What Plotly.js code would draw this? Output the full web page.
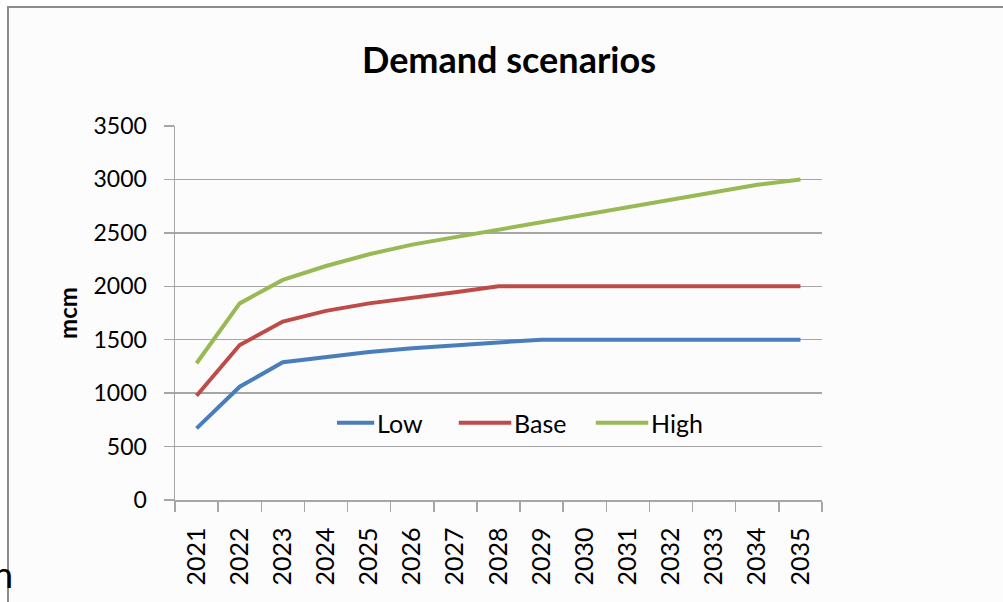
<!DOCTYPE html>
<html>
<head>
<meta charset="utf-8">
<script src="https://cdn.plot.ly/plotly-3.0.1.min.js"></script>
<style>
  html, body { margin: 0; padding: 0; background: #ffffff; }
  #chart { width: 1003px; height: 602px; }
  /* the reference's legend keys are longer than Plotly's default samples */
  #chart .legendlines path { transform: translateX(-24px) scaleX(1.75); }
</style>
</head>
<body>
<div id="chart"></div>
<script>
const years = ["2021","2022","2023","2024","2025","2026","2027","2028","2029","2030","2031","2032","2033","2034","2035"];
const lowValues  = [670, 1060, 1290, 1340, 1385, 1420, 1450, 1475, 1500, 1500, 1500, 1500, 1500, 1500, 1500];
const baseValues = [975, 1450, 1670, 1770, 1840, 1890, 1945, 2000, 2000, 2000, 2000, 2000, 2000, 2000, 2000];
const highValues = [1280, 1840, 2060, 2190, 2300, 2390, 2460, 2530, 2600, 2670, 2740, 2810, 2880, 2950, 3000];
const yTickValues = [0, 500, 1000, 1500, 2000, 2500, 3000, 3500];
const yTickLabels = ["0", "500", "1000", "1500", "2000", "2500", "3000", "3500"];

const FONT = "Lato, 'Open Sans', sans-serif";

const traces = [
  { name: "Low",  x: years, y: lowValues,  type: "scatter", mode: "lines", line: { color: "#4A7EBB", width: 4 } },
  { name: "Base", x: years, y: baseValues, type: "scatter", mode: "lines", line: { color: "#BE4B48", width: 4 } },
  { name: "High", x: years, y: highValues, type: "scatter", mode: "lines", line: { color: "#98B954", width: 4 } }
];

const L = 175, R = 822, T = 126, B = 500, W = 1003, H = 602;
const pw = R - L, ph = B - T;
const px = v => (v - L) / pw;
const py = v => (B - v) / ph;

const layout = {
  width: W, height: H,
  margin: { l: L, r: W - R, t: T, b: H - B, pad: 0 },
  paper_bgcolor: "#ffffff",
  plot_bgcolor: "rgba(0,0,0,0)",
  font: { family: FONT, color: "#000000", size: 23 },
  title: {
    text: "<b>Demand scenarios</b>",
    font: { family: FONT, size: 36, color: "#000000" },
    xref: "paper", x: px(509), xanchor: "center",
    yref: "container", y: 1 - 60 / H, yanchor: "middle"
  },
  xaxis: {
    type: "category",
    range: [-0.5, 14.5],
    tickson: "boundaries",
    ticks: "outside", ticklen: 10, tickwidth: 1.5, tickcolor: "#a6a6a6",
    showgrid: false,
    showline: true, linecolor: "#a6a6a6", linewidth: 1.5,
    tickangle: -90,
    tickfont: { family: FONT, size: 25, color: "#000000" },
    ticklabelstandoff: 16,
    zeroline: false,
    fixedrange: true
  },
  yaxis: {
    range: [0, 3500],
    tickvals: yTickValues,
    ticktext: yTickLabels,
    ticks: "outside", ticklen: 10, tickwidth: 1.5, tickcolor: "#a6a6a6",
    showgrid: true, gridcolor: "#a6a6a6", gridwidth: 1.5,
    showline: true, linecolor: "#a6a6a6", linewidth: 1.5,
    zeroline: false,
    tickfont: { family: FONT, size: 23, color: "#000000" },
    ticklabelstandoff: 12,
    title: { text: "<b>mcm</b>", font: { family: FONT, size: 24, color: "#000000" }, standoff: 9 },
    fixedrange: true
  },
  legend: {
    orientation: "h",
    x: px(337), xanchor: "left",
    y: py(423), yanchor: "middle",
    bgcolor: "rgba(0,0,0,0)",
    font: { family: FONT, size: 25, color: "#000000" },
    entrywidth: 92, entrywidthmode: "pixels"
  },
  shapes: [
    {
      type: "rect", xref: "paper", yref: "paper", layer: "below",
      x0: px(8), x1: px(1012), y0: py(612), y1: py(7),
      fillcolor: "#fcfcfc",
      line: { color: "#8c8c8c", width: 2 }
    }
  ],
  annotations: [
    {
      text: "n", xref: "paper", yref: "paper",
      x: px(15), xanchor: "right", y: py(598), yanchor: "bottom",
      showarrow: false,
      font: { family: FONT, size: 36, color: "#000000" }
    }
  ],
  showlegend: true
};

Plotly.newPlot("chart", traces, layout, { displayModeBar: false, staticPlot: true });
</script>
</body>
</html>
